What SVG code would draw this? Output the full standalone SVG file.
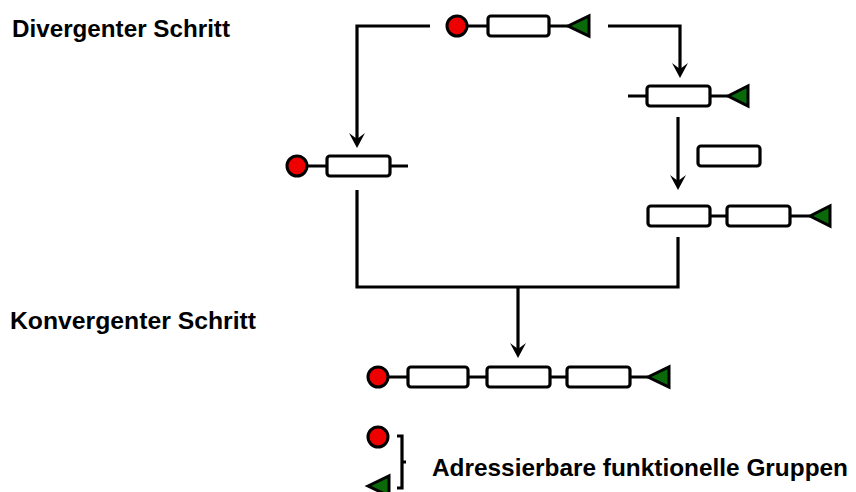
<svg xmlns="http://www.w3.org/2000/svg" width="856" height="492" viewBox="0 0 856 492">
<style>
.ln{fill:none;stroke:#000;stroke-width:3.2}
.bx{fill:#fff;stroke:#000;stroke-width:3.2}
.dot{fill:#e00;stroke:#000;stroke-width:3}
.tri{fill:#0a6a0a;stroke:#000;stroke-width:3;stroke-linejoin:miter}
.lbl{font-family:"Liberation Sans",Arial,sans-serif;font-weight:bold;font-size:24px;fill:#000}
.ah{fill:#000}
</style>
<rect width="856" height="492" fill="#fff"/>
<text class="lbl" x="12" y="37" textLength="218" lengthAdjust="spacingAndGlyphs">Divergenter Schritt</text>
<text class="lbl" x="10" y="329" textLength="246" lengthAdjust="spacingAndGlyphs">Konvergenter Schritt</text>
<g id="connectors">
<path class="ln" d="M430,26 H357 V140"/>
<path class="ah" d="M357,148 L349,133 L357,139 L365,133 Z"/>
<path class="ln" d="M608,26 H680 V70"/>
<path class="ah" d="M680,78 L672,63 L680,69 L688,63 Z"/>
<path class="ln" d="M678,117 V182"/>
<path class="ah" d="M678,190 L670,175 L678,181 L686,175 Z"/>
<path class="ln" d="M357,190 V287 H678 V237"/>
<path class="ln" d="M518,287 V350"/>
<path class="ah" d="M518,358 L510,343 L518,349 L526,343 Z"/>
</g>
<g id="top-chain">
<path class="ln" d="M467,26 H488 M549,26 H568"/>
<circle class="dot" cx="457" cy="26" r="10"/>
<rect class="bx" x="488" y="16" width="61" height="20" rx="3"/>
<path class="tri" d="M568,26 L589,16 V36 Z"/>
</g>
<g id="right-chain-1">
<path class="ln" d="M628,96 H647 M710,96 H728"/>
<rect class="bx" x="647" y="86" width="63" height="20" rx="3"/>
<path class="tri" d="M728,96 L748,86 V106 Z"/>
</g>
<g id="single-group">
<rect class="bx" x="698" y="146" width="62" height="20" rx="3"/>
</g>
<g id="left-chain">
<path class="ln" d="M307,166 H327 M390,166 H408"/>
<circle class="dot" cx="297" cy="166" r="10"/>
<rect class="bx" x="327" y="156" width="63" height="20" rx="3"/>
</g>
<g id="right-chain-2">
<path class="ln" d="M710,216 H727 M790,216 H810"/>
<rect class="bx" x="648" y="206" width="62" height="20" rx="3"/>
<rect class="bx" x="727" y="206" width="63" height="20" rx="3"/>
<path class="tri" d="M810,216 L830,206 V226 Z"/>
</g>
<g id="bottom-chain">
<path class="ln" d="M388,377 H408 M468,377 H487 M550,377 H567 M630,377 H648"/>
<circle class="dot" cx="378" cy="377" r="10"/>
<rect class="bx" x="408" y="367" width="60" height="20" rx="3"/>
<rect class="bx" x="487" y="367" width="63" height="20" rx="3"/>
<rect class="bx" x="567" y="367" width="63" height="20" rx="3"/>
<path class="tri" d="M648,377 L669,367 V387 Z"/>
</g>
<g id="legend">
<circle class="dot" cx="378" cy="437" r="10"/>
<path class="tri" d="M368,486 L389,476 V496 Z"/>
<path class="ln" d="M397,436 H402 V488 H397 M402,462 H406"/>
<text class="lbl" x="432" y="476" textLength="416" lengthAdjust="spacingAndGlyphs">Adressierbare funktionelle Gruppen</text>
</g>
</svg>
